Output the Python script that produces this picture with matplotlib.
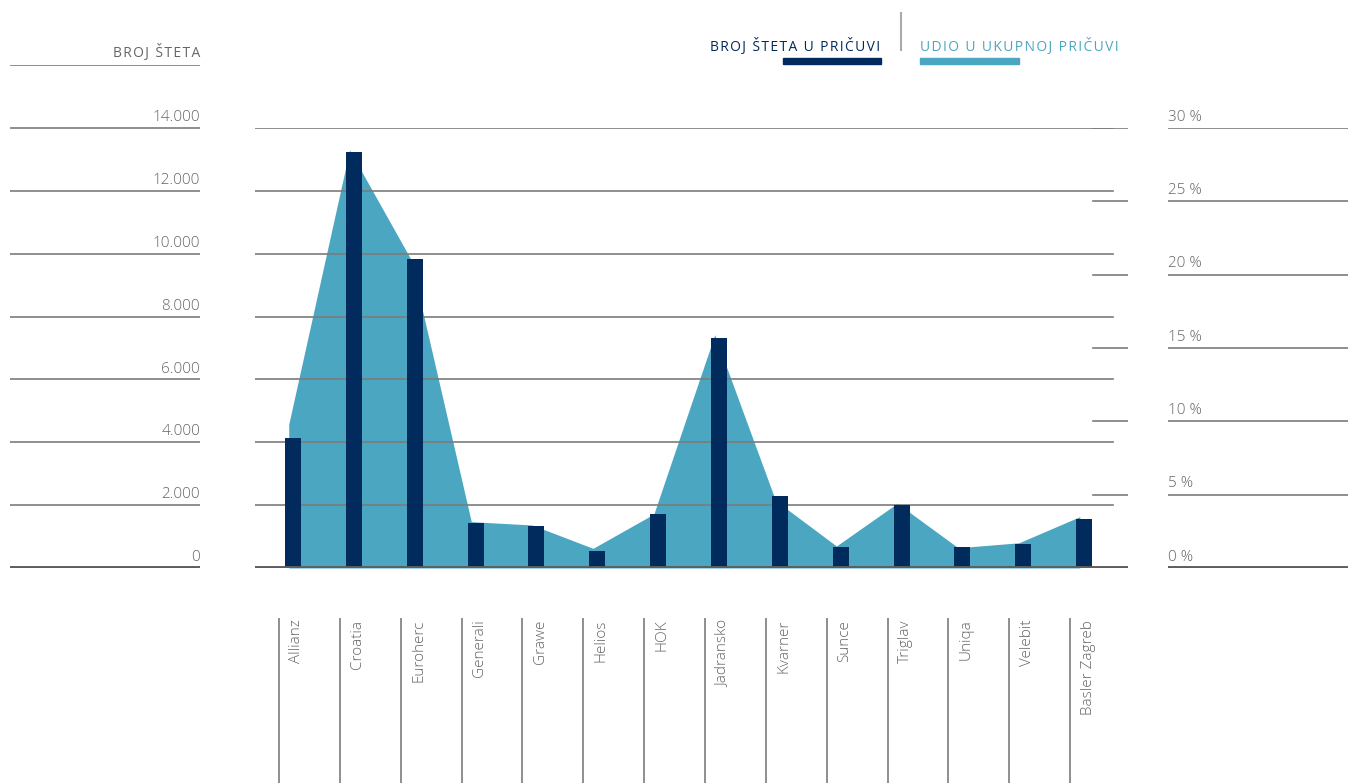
import numpy as np
import matplotlib.pyplot as plt

# data
companies = ['Allianz', 'Croatia', 'Euroherc', 'Generali', 'Grawe', 'Helios', 'HOK',
             'Jadransko', 'Kvarner', 'Sunce', 'Triglav', 'Uniqa', 'Velebit', 'Basler Zagreb']
broj_steta = [4136, 13236, 9832, 1441, 1336, 550, 1728, 7318, 2291, 668, 2005, 668, 764, 1559]
udio_pct = [9.8, 28.5, 21.1, 3.16, 2.93, 1.34, 3.68, 15.9, 4.6, 1.5, 4.41, 1.38, 1.72, 3.5]

count_ticks = [0, 2000, 4000, 6000, 8000, 10000, 12000, 14000]
count_labels = ['0', '2.000', '4.000', '6.000', '8.000', '10.000', '12.000', '14.000']
pct_ticks = [0, 5, 10, 15, 20, 25, 30]
pct_labels = ['0 %', '5 %', '10 %', '15 %', '20 %', '25 %', '30 %']

NAVY = '#002b5c'
LIGHT = '#4ba6c2'
GRID = '#7b7b7b'
BASE = '#5e5e5e'
TXT = '#666666'
FONT = 'Open Sans'
FONTS = ['Open Sans', 'DejaVu Sans']


def spaced(s):
    # fake letter spacing with hair spaces
    return '\u200a'.join(s)


W, H = 1348, 783
fig = plt.figure(figsize=(W / 100, H / 100), dpi=100)

# pixel geometry
step = 60.85           # px between categories
first = 293            # px centre of first bar
x_left, x_right = 255, 1128
y_base, y_top = 568, 128

def px_ax(l, b_px, w, t_px):
    return [l / W, 1 - b_px / H, w / W, (b_px - t_px) / H]

xlim = (-(first - x_left) / step, (x_right - first) / step)
x = np.arange(len(companies))

# area (percent) axis below, counts axis on top
ax2 = fig.add_axes(px_ax(x_left, y_base, x_right - x_left, y_top))
ax = fig.add_axes(px_ax(x_left, y_base, x_right - x_left, y_top))
ax.patch.set_visible(False)
for a in (ax, ax2):
    a.set_xlim(*xlim)
    a.axis('off')
ax.set_ylim(0, 14000)
ax2.set_ylim(0, 30)

ax2.fill_between(x - 0.07, udio_pct, 0, color=LIGHT, linewidth=0)

# gridlines
grid_end = (1113 - x_left) / (x_right - x_left)
for t in count_ticks[1:]:
    ax.axhline(t, xmin=0, xmax=grid_end, color=GRID, lw=1.2, zorder=1)
short_start = (1093 - x_left) / (x_right - x_left)
for t in pct_ticks[1:]:
    ax2.axhline(t, xmin=short_start, xmax=1, color=GRID, lw=1.2, zorder=1)
ax.axhline(0, color=BASE, lw=2.8, zorder=3)

ax.bar(x, broj_steta, width=16 / step, color=NAVY, zorder=2)

# left column (counts)
axl = fig.add_axes(px_ax(10, y_base, 190, 65))
axl.set_xlim(0, 1)
axl.set_ylim(0, 16000)
axl.axis('off')
for t, lab in zip(count_ticks, count_labels):
    axl.axhline(t, color=BASE if t == 0 else GRID, lw=2.8 if t == 0 else 1.2)
    axl.annotate(lab, (1, t), xytext=(0, 2), textcoords='offset points',
                 ha='right', va='bottom', color=TXT, fontsize=11,
                 family=FONT, fontweight='light')
axl.axhline(16000, color=GRID, lw=1.2)
axl.annotate(spaced('BROJ ŠTETA'), (1, 16000), xytext=(0, 3), textcoords='offset points',
             ha='right', va='bottom', color=TXT, fontsize=10, family=FONTS)

# right column (percent)
axr = fig.add_axes(px_ax(1168, y_base, W - 1168, y_top))
axr.set_xlim(0, 1)
axr.set_ylim(0, 30)
axr.axis('off')
for t, lab in zip(pct_ticks, pct_labels):
    axr.axhline(t, color=BASE if t == 0 else GRID, lw=2.8 if t == 0 else 1.2)
    axr.annotate(lab, (0, t), xytext=(0, 2.5), textcoords='offset points',
                 ha='left', va='bottom', color=TXT, fontsize=11,
                 family=FONT, fontweight='light')

# category labels
axc = fig.add_axes([x_left / W, 0, (x_right - x_left) / W, (H - 618) / H])
axc.set_xlim(*xlim)
axc.set_ylim(0, 1)
axc.axis('off')
axc.vlines(x - 14 / step, 0, 1, color=GRID, lw=1.2)
for i, name in enumerate(companies):
    axc.text(i + 4 / step, 0.99, name, rotation=90, ha='center', va='top',
             color=TXT, fontsize=11, family=FONT, fontweight='light')

# legend
fig.text(880 / W, 1 - 51 / H, spaced('BROJ ŠTETA U PRIČUVI'), ha='right', va='baseline',
         color=NAVY, fontsize=10, family=FONTS)
fig.text(920 / W, 1 - 51 / H, spaced('UDIO U UKUPNOJ PRIČUVI'), ha='left', va='baseline',
         color=LIGHT, fontsize=10, family=FONTS)
fig.add_artist(plt.Rectangle((783 / W, 1 - 64 / H), 98 / W, 6 / H, color=NAVY,
                             transform=fig.transFigure))
fig.add_artist(plt.Rectangle((920 / W, 1 - 64 / H), 99 / W, 6 / H, color=LIGHT,
                             transform=fig.transFigure))
fig.add_artist(plt.Line2D([901 / W, 901 / W], [1 - 13 / H, 1 - 50 / H], color='#aaaaaa',
                          lw=1.5, transform=fig.transFigure))

fig.savefig('out.png', dpi=100)
